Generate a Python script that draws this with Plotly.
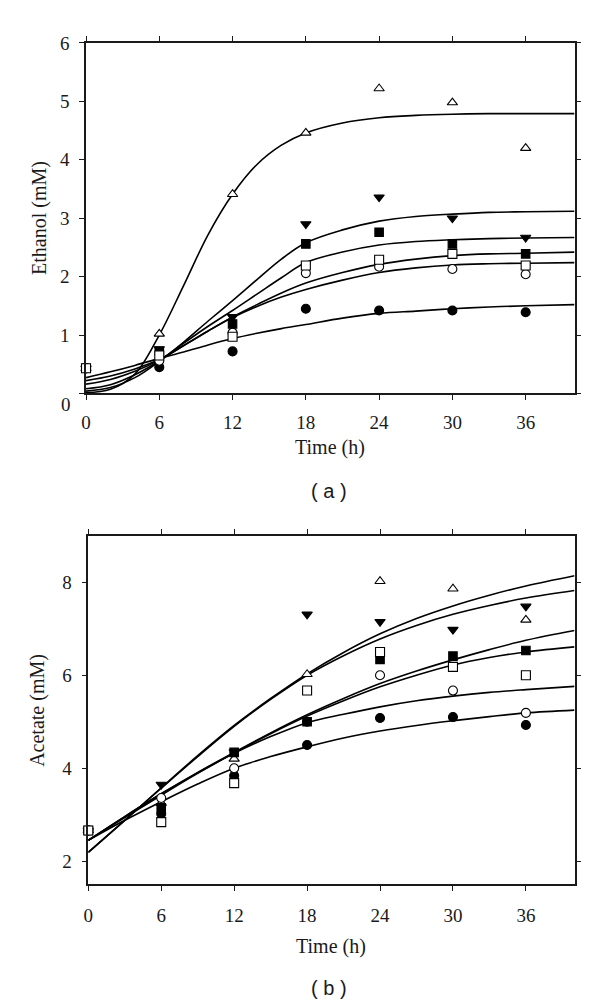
import plotly.graph_objects as go

# ---------------- data ----------------
time_pts = [0, 6, 12, 18, 24, 30, 36]
x_ticks = [0, 6, 12, 18, 24, 30, 36]
eth_ticks = [0, 1, 2, 3, 4, 5, 6]
ace_ticks = [2, 4, 6, 8]

# Panel (a) ethanol, measured (mM)
eth_tri_open = [0.43, 1.02, 3.41, 4.46, 5.22, 4.98, 4.20]
eth_tri_down = [0.43, 0.76, 1.31, 2.90, 3.36, 3.00, 2.67]
eth_sq_filled = [0.43, 0.72, 1.19, 2.56, 2.76, 2.56, 2.39]
eth_sq_open = [0.43, 0.65, 0.97, 2.19, 2.29, 2.39, 2.19]
eth_circ_open = [0.43, 0.56, 1.04, 2.06, 2.17, 2.13, 2.04]
eth_circ_filled = [0.43, 0.45, 0.72, 1.45, 1.42, 1.42, 1.39]

# Panel (a) fitted curves
fit_t_a = [0, 2, 4, 6, 8, 10, 12, 14, 16, 18, 21, 24, 27, 30, 33, 36, 40]
fit_eth_tri_open = [0.01, 0.07, 0.33, 1.00, 1.85, 2.72, 3.41, 3.92, 4.25, 4.46, 4.63, 4.72, 4.76, 4.78, 4.79, 4.79, 4.79]
fit_eth_tri_down = [0.04, 0.10, 0.27, 0.55, 0.88, 1.24, 1.59, 1.95, 2.30, 2.58, 2.80, 2.95, 3.03, 3.07, 3.10, 3.11, 3.12]
fit_eth_sq_filled = [0.08, 0.15, 0.32, 0.56, 0.86, 1.15, 1.42, 1.70, 1.98, 2.24, 2.42, 2.54, 2.60, 2.63, 2.65, 2.66, 2.67]
fit_eth_sq_open = [0.16, 0.24, 0.38, 0.57, 0.82, 1.07, 1.31, 1.52, 1.72, 1.89, 2.07, 2.21, 2.30, 2.36, 2.39, 2.40, 2.42]
fit_eth_circ_open = [0.22, 0.30, 0.42, 0.58, 0.82, 1.07, 1.30, 1.49, 1.65, 1.78, 1.94, 2.07, 2.15, 2.20, 2.22, 2.23, 2.24]
fit_eth_circ_filled = [0.27, 0.37, 0.48, 0.60, 0.71, 0.83, 0.94, 1.03, 1.11, 1.18, 1.29, 1.37, 1.41, 1.45, 1.48, 1.50, 1.52]

# Panel (b) acetate, measured (mM)
ace_tri_open = [2.66, 3.25, 4.20, 6.02, 8.02, 7.86, 7.19]
ace_tri_down = [2.66, 3.65, 4.35, 7.31, 7.15, 6.98, 7.48]
ace_sq_filled = [2.66, 3.15, 4.34, 5.00, 6.34, 6.41, 6.53]
ace_sq_open = [2.66, 2.84, 3.68, 5.67, 6.50, 6.18, 6.00]
ace_circ_open = [2.66, 3.36, 4.00, 5.00, 6.00, 5.67, 5.19]
ace_circ_filled = [2.66, 3.02, 3.84, 4.50, 5.08, 5.10, 4.93]

# Panel (b) fitted curves
fit_t_b = [0, 3, 6, 9, 12, 15, 18, 21, 24, 27, 30, 33, 36, 40]
fit_ace_tri_open = [2.19, 2.88, 3.58, 4.27, 4.92, 5.50, 6.03, 6.49, 6.89, 7.22, 7.49, 7.72, 7.92, 8.14]
fit_ace_tri_down = [2.19, 2.88, 3.57, 4.25, 4.90, 5.48, 6.00, 6.42, 6.78, 7.07, 7.31, 7.50, 7.66, 7.82]
fit_ace_sq_filled = [2.45, 2.96, 3.45, 3.91, 4.34, 4.76, 5.15, 5.50, 5.82, 6.09, 6.33, 6.55, 6.75, 6.96]
fit_ace_sq_open = [2.45, 2.96, 3.45, 3.90, 4.33, 4.74, 5.12, 5.45, 5.75, 6.00, 6.22, 6.38, 6.50, 6.61]
fit_ace_circ_open = [2.45, 2.94, 3.42, 3.89, 4.32, 4.68, 4.98, 5.16, 5.32, 5.45, 5.55, 5.63, 5.69, 5.76]
fit_ace_circ_filled = [2.45, 2.88, 3.28, 3.66, 4.00, 4.25, 4.46, 4.65, 4.80, 4.92, 5.02, 5.11, 5.19, 5.25]

# ---------------- styling ----------------
SERIF = "Liberation Serif, Times New Roman, serif"
SANS = "Liberation Sans, Arial, sans-serif"
INK = "#1a1a1a"

# (symbol, fill, size) in drawing order: open square last so it sits on top at t=0
styles = {
    "tri_open": ("triangle-up", "white", 9),
    "tri_down": ("triangle-down", "black", 9),
    "circ_filled": ("circle", "black", 9),
    "circ_open": ("circle", "white", 9),
    "sq_filled": ("square", "black", 8.5),
    "sq_open": ("square", "white", 9),
}

fig = go.Figure()

panels = [
    ("x", "y",
     [fit_eth_tri_open, fit_eth_tri_down, fit_eth_sq_filled, fit_eth_sq_open, fit_eth_circ_open, fit_eth_circ_filled],
     fit_t_a,
     {"tri_open": eth_tri_open, "tri_down": eth_tri_down, "circ_filled": eth_circ_filled,
      "circ_open": eth_circ_open, "sq_filled": eth_sq_filled, "sq_open": eth_sq_open}),
    ("x2", "y2",
     [fit_ace_tri_open, fit_ace_tri_down, fit_ace_sq_filled, fit_ace_sq_open, fit_ace_circ_open, fit_ace_circ_filled],
     fit_t_b,
     {"tri_open": ace_tri_open, "tri_down": ace_tri_down, "circ_filled": ace_circ_filled,
      "circ_open": ace_circ_open, "sq_filled": ace_sq_filled, "sq_open": ace_sq_open}),
]

for xa, ya, curves, ft, meas in panels:
    for c in curves:
        fig.add_trace(go.Scatter(x=ft, y=c, mode="lines", xaxis=xa, yaxis=ya,
                                 line=dict(color="black", width=1.6, shape="spline", smoothing=1.0),
                                 showlegend=False, hoverinfo="skip"))
    for key, (sym, fill, size) in styles.items():
        fig.add_trace(go.Scatter(x=time_pts, y=meas[key], mode="markers", xaxis=xa, yaxis=ya,
                                 marker=dict(symbol=sym, color=fill, size=size,
                                             line=dict(color="black", width=1.1)),
                                 showlegend=False, cliponaxis=False))

W, H = 600, 1002
axis_common = dict(showline=True, linecolor=INK, linewidth=1.5, mirror="ticks",
                   ticks="outside", ticklen=5, tickwidth=1.3, tickcolor=INK,
                   showgrid=False, zeroline=False,
                   tickfont=dict(family=SERIF, size=19, color=INK))

# the "0" of the ethanol axis sits a little below its tick in the original, so it is
# written as a separate label under the corner
eth_ticktext = ["" if v == 0 else str(v) for v in eth_ticks]

fig.update_layout(
    width=W, height=H,
    margin=dict(l=0, r=0, t=0, b=0),
    paper_bgcolor="white", plot_bgcolor="white",
    xaxis=dict(domain=[81.7 / W, 574.3 / W], range=[0, 40], tickvals=x_ticks,
               anchor="y", ticklabelstandoff=6, **axis_common),
    yaxis=dict(domain=[1 - 387.3 / H, 1 - 33.3 / H], range=[0, 6], tickvals=eth_ticks,
               ticktext=eth_ticktext, anchor="x", ticklabelstandoff=6, **axis_common),
    xaxis2=dict(domain=[84 / W, 574.3 / W], range=[0, 40], tickvals=x_ticks,
                anchor="y2", ticklabelstandoff=8, **axis_common),
    yaxis2=dict(domain=[1 - 883.3 / H, 1 - 531 / H], range=[1.5, 9], tickvals=ace_ticks,
                anchor="x2", ticklabelstandoff=6, **axis_common),
)

annos = [
    dict(text=str(eth_ticks[0]), xref="paper", yref="paper", x=61.7 / W, y=1 - 398 / H,
         font=dict(family=SERIF, size=19, color=INK)),
    dict(text="Time (h)", xref="x domain", yref="paper", x=0.5, y=1 - 441.7 / H,
         font=dict(family=SERIF, size=20, color=INK)),
    dict(text="Ethanol (mM)", xref="paper", yref="y domain", x=34 / W, y=0.5, textangle=-90,
         font=dict(family=SERIF, size=20, color=INK)),
    dict(text="( a )", xref="paper", yref="paper", x=327 / W, y=1 - 486 / H,
         font=dict(family=SANS, size=20, color=INK)),
    dict(text="Time (h)", xref="x2 domain", yref="paper", x=0.5, y=1 - 946 / H,
         font=dict(family=SERIF, size=20, color=INK)),
    dict(text="Acetate (mM)", xref="paper", yref="y2 domain", x=32 / W, y=0.5, textangle=-90,
         font=dict(family=SERIF, size=20, color=INK)),
    dict(text="( b )", xref="paper", yref="paper", x=327 / W, y=1 - 988 / H,
         font=dict(family=SANS, size=20, color=INK)),
]
for a in annos:
    a.update(showarrow=False, xanchor="center", yanchor="middle")
    fig.add_annotation(**a)

# remove the browser's default body margin so the figure sits at the page origin
fig.write_html("out.html",
               config={"displayModeBar": False},
               post_script="document.body.style.margin='0px';document.body.style.overflow='hidden';")
